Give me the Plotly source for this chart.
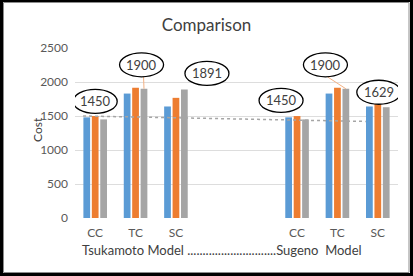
import plotly.graph_objects as go

# ---- data ----
categories = ["CC", "TC", "SC", "", "", "CC", "TC", "SC"]
series_blue = [1480, 1830, 1640, None, None, 1480, 1830, 1640]
series_orange = [1500, 1917, 1767, None, None, 1499, 1917, 1680]
series_gray = [1450, 1900, 1891, None, None, 1450, 1900, 1629]
trend_values = [1500, 1420]
y_ticks = [0, 500, 1000, 1500, 2000, 2500]
title_text = "Comparison"
y_title = "Cost"
group_label = "Tsukamoto Model .............................Sugeno  Model"

# ---- layout helpers (pixel geometry) ----
W, H = 413, 276
ML, MR, MT, MB = 75, 15, 48, 58
PW, PH = W - ML - MR, H - MT - MB
FONT = "Lato"
BARGAP, GROUPGAP = 0.374, 0.2

def px_x(px):
    return (px - ML) / PW

def px_y(py):
    return (H - MB - py) / PH

xs = list(range(len(categories)))
trend_x = [xs[0] - 0.3, xs[-1] - 0.3]
cat_px = PW / len(xs)
gray_dx = cat_px * (1 - BARGAP) / 3  # pixel offset of gray bar centre from category centre

fig = go.Figure()
colors = ["#5B9BD5", "#ED7D31", "#A5A5A5"]
for vals, c in zip([series_blue, series_orange, series_gray], colors):
    fig.add_trace(go.Bar(x=xs, y=vals, marker=dict(color=c, line=dict(width=0)),
                         showlegend=False, hoverinfo="skip"))

fig.add_trace(go.Scatter(x=trend_x, y=trend_values, mode="lines",
                         line=dict(color="#A5A5A5", width=1.5, dash="dot"),
                         showlegend=False, hoverinfo="skip"))

# data labels (gray series) with ellipses: (dx, dy_up) pixel offsets from category centre / bar top
label_offsets = {0: (0, 18), 1: (6, 24), 2: (31, 16), 5: (-16, 19), 6: (-12, 24), 7: (1, 15)}
leader_idx = [1, 6]
shapes = []
annotations = []
for i in leader_idx:
    dx, dy = label_offsets[i]
    shapes.append(dict(type="line", xref="x", yref="y", xsizemode="pixel", ysizemode="pixel",
                       xanchor=xs[i], yanchor=series_gray[i], x0=gray_dx, y0=0, x1=dx + 2, y1=dy - 12,
                       line=dict(color="#F4B183", width=1), layer="above"))
for i, (dx, dy) in label_offsets.items():
    v = series_gray[i]
    shapes.append(dict(type="circle", xref="x", yref="y", xsizemode="pixel", ysizemode="pixel",
                       xanchor=xs[i], yanchor=v, x0=dx - 22, x1=dx + 22, y0=dy - 12, y1=dy + 12,
                       line=dict(color="black", width=1.3), fillcolor="white", layer="above"))
    annotations.append(dict(x=xs[i], y=v, xref="x", yref="y", text=str(v), showarrow=False,
                            xshift=dx, yshift=dy, font=dict(family=FONT, size=13, color="#404040")))

annotations.append(dict(x=px_x(37), y=px_y(130), xref="paper", yref="paper", text=y_title,
                        textangle=-90, showarrow=False, xanchor="center", yanchor="middle",
                        font=dict(family=FONT, size=12, color="#404040")))
annotations.append(dict(x=px_x(222), y=px_y(250), xref="paper", yref="paper", text=group_label,
                        showarrow=False, xanchor="center", yanchor="middle",
                        font=dict(family=FONT, size=13, color="#404040")))

# frame
shapes.append(dict(type="rect", xref="paper", yref="paper", x0=px_x(1.5), x1=px_x(411.5),
                   y0=px_y(274.5), y1=px_y(0.5), line=dict(color="black", width=3), layer="above"))
shapes.append(dict(type="rect", xref="paper", yref="paper", x0=px_x(3.5), x1=px_x(409),
                   y0=px_y(272.5), y1=px_y(2.5), line=dict(color="#8C8C8C", width=1), layer="above"))

fig.update_layout(
    width=W, height=H,
    margin=dict(l=ML, r=MR, t=MT, b=MB),
    paper_bgcolor="white", plot_bgcolor="white",
    barmode="group", bargap=BARGAP, bargroupgap=GROUPGAP,
    title=dict(text=title_text, x=0.5, xref="container", y=1 - 25 / H, yref="container",
               yanchor="middle", xanchor="center",
               font=dict(family=FONT, size=17, color="#404040")),
    xaxis=dict(tickmode="array", tickvals=xs, ticktext=categories, range=[-0.5, len(xs) - 0.5],
               showgrid=False, zeroline=False, showline=False, ticks="",
               ticklabelstandoff=6,
               tickfont=dict(family=FONT, size=12, color="#595959")),
    yaxis=dict(tickmode="array", tickvals=y_ticks, range=[0, 2500], showgrid=True,
               gridcolor="#DDDDDD", gridwidth=1, zeroline=False, showline=False, ticks="",
               ticklabelstandoff=6,
               tickfont=dict(family=FONT, size=12, color="#595959")),
    shapes=shapes, annotations=annotations,
)
fig.write_html("out.html", config={"displayModeBar": False},
               post_script="document.body.style.margin='0';document.body.style.overflow='hidden';")
